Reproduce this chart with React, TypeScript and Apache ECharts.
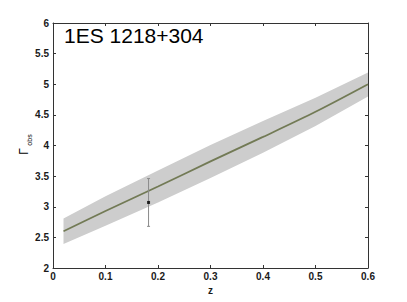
import React, { useEffect, useRef } from "react";
import * as echarts from "echarts";

// Model curve (redshift vs. observed photon index) and its uncertainty band
const zValues = [0.02, 0.1, 0.2, 0.3, 0.4, 0.5, 0.6];
const gammaFit = [2.6, 2.93, 3.33, 3.74, 4.14, 4.55, 5.0];
const gammaUpper = [2.81, 3.17, 3.59, 4.01, 4.4, 4.78, 5.19];
const gammaLower = [2.39, 2.69, 3.07, 3.47, 3.88, 4.32, 4.8];

// Observed point with error bar
const obsZ = [0.182];
const obsGamma = [3.07];
const obsErrLow = [2.68];
const obsErrHigh = [3.46];

const chartTitle = "1ES 1218+304";
const xName = "z";
const yNameMain = "Γ";
const yNameSub = "obs";

const FONT = "'Liberation Sans', Arial, Helvetica, sans-serif";
const AXIS_COLOR = "#333333";

function App() {
  const ref = useRef<HTMLDivElement>(null);

  useEffect(() => {
    if (!ref.current) return;
    const chart = echarts.init(ref.current, undefined, { renderer: "svg" });

    const lineStyle = { color: AXIS_COLOR, width: 1 };
    const labelStyle = {
      fontFamily: FONT,
      fontSize: 10,
      fontWeight: "bold" as const,
      color: "#1a1a1a",
    };

    const option: any = {
      animation: false,
      backgroundColor: "#ffffff",
      grid: { left: 53, right: 39, top: 23, bottom: 34, containLabel: false },
      title: {
        text: chartTitle,
        left: 64,
        top: 25,
        padding: 0,
        textStyle: {
          fontFamily: FONT,
          fontSize: 21,
          fontWeight: "normal",
          color: "#000000",
        },
      },
      xAxis: [
        {
          type: "value",
          position: "bottom",
          min: 0,
          max: 0.6,
          interval: 0.1,
          name: xName,
          nameLocation: "middle",
          nameGap: 14,
          nameTextStyle: { ...labelStyle, fontSize: 10 },
          axisLine: { show: true, onZero: false, lineStyle },
          axisTick: { show: true, inside: true, length: 3, lineStyle },
          axisLabel: { ...labelStyle, margin: 3 },
          splitLine: { show: false },
        },
        {
          type: "value",
          position: "top",
          min: 0,
          max: 0.6,
          interval: 0.1,
          axisLine: { show: true, onZero: false, lineStyle },
          axisTick: { show: true, inside: true, length: 3, lineStyle },
          axisLabel: { show: false },
          splitLine: { show: false },
        },
      ],
      yAxis: [
        {
          type: "value",
          position: "left",
          min: 2,
          max: 6,
          interval: 0.5,
          axisLine: { show: true, onZero: false, lineStyle },
          axisTick: { show: true, inside: true, length: 3, lineStyle },
          axisLabel: { ...labelStyle, margin: 4 },
          splitLine: { show: false },
        },
        {
          type: "value",
          position: "right",
          min: 2,
          max: 6,
          interval: 0.5,
          axisLine: { show: true, onZero: false, lineStyle },
          axisTick: { show: true, inside: true, length: 3, lineStyle },
          axisLabel: { show: false },
          splitLine: { show: false },
        },
      ],
      graphic: [
        {
          type: "text",
          x: 24,
          y: 151.5,
          rotation: Math.PI / 2,
          silent: true,
          style: {
            text: yNameMain,
            fontFamily: FONT,
            fontSize: 12,
            fill: "#000000",
            align: "center",
            verticalAlign: "middle",
            textAlign: "center",
            textVerticalAlign: "middle",
          },
        },
        {
          type: "text",
          x: 29.5,
          y: 140,
          rotation: Math.PI / 2,
          silent: true,
          style: {
            text: yNameSub,
            fontFamily: FONT,
            fontSize: 7,
            fill: "#000000",
            align: "center",
            verticalAlign: "middle",
            textAlign: "center",
            textVerticalAlign: "middle",
          },
        },
      ],
      series: [
        {
          type: "custom",
          name: "band",
          xAxisIndex: 0,
          yAxisIndex: 0,
          z: 1,
          silent: true,
          data: zValues.map((z, i) => [z, gammaLower[i], gammaUpper[i]]),
          encode: { x: 0, y: [1, 2] },
          renderItem: (params: any, api: any) => {
            if (params.dataIndex !== 0) return null;
            const pts: number[][] = [];
            for (let i = 0; i < zValues.length; i++) {
              pts.push(api.coord([zValues[i], gammaUpper[i]]));
            }
            for (let i = zValues.length - 1; i >= 0; i--) {
              pts.push(api.coord([zValues[i], gammaLower[i]]));
            }
            return {
              type: "polygon",
              shape: { points: pts },
              style: { fill: "#cdcdcd", stroke: "none" },
            };
          },
        },
        {
          type: "line",
          name: "fit",
          xAxisIndex: 0,
          yAxisIndex: 0,
          z: 2,
          symbol: "none",
          smooth: 0.3,
          data: zValues.map((z, i) => [z, gammaFit[i]]),
          lineStyle: { color: "#727a55", width: 1.8 },
        },
        {
          type: "custom",
          name: "errorbar",
          xAxisIndex: 0,
          yAxisIndex: 0,
          z: 3,
          silent: true,
          data: obsZ.map((z, i) => [z, obsGamma[i], obsErrLow[i], obsErrHigh[i]]),
          encode: { x: 0, y: [2, 3] },
          renderItem: (params: any, api: any) => {
            const x = api.value(0);
            const lo = api.coord([x, api.value(2)]);
            const hi = api.coord([x, api.value(3)]);
            const st = { stroke: "#8a8a8a", lineWidth: 1 };
            return {
              type: "group",
              children: [
                { type: "line", shape: { x1: lo[0], y1: lo[1], x2: hi[0], y2: hi[1] }, style: st },
                { type: "line", shape: { x1: lo[0] - 1.5, y1: lo[1], x2: lo[0] + 1.5, y2: lo[1] }, style: st },
                { type: "line", shape: { x1: hi[0] - 1.5, y1: hi[1], x2: hi[0] + 1.5, y2: hi[1] }, style: st },
              ],
            };
          },
        },
        {
          type: "scatter",
          name: "obs",
          xAxisIndex: 0,
          yAxisIndex: 0,
          z: 4,
          symbol: "rect",
          symbolSize: 3,
          itemStyle: { color: "#000000", borderWidth: 0 },
          data: obsZ.map((z, i) => [z, obsGamma[i]]),
        },
      ],
    };

    chart.setOption(option);
    return () => chart.dispose();
  }, []);

  return (
    <div
      ref={ref}
      style={{ position: "fixed", left: 0, top: 0, width: 407, height: 302, background: "#fff" }}
    />
  );
}

export default App;
